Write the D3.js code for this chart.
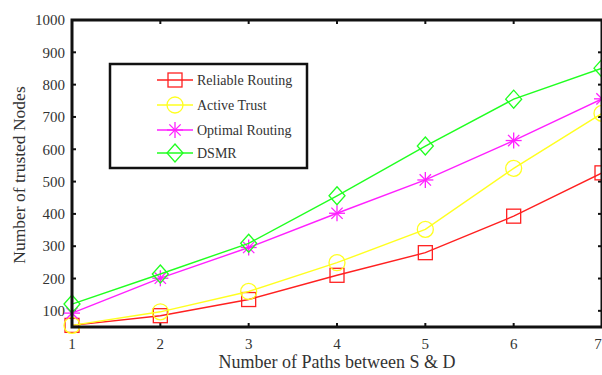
<!DOCTYPE html>
<html>
<head>
<meta charset="utf-8">
<script src="https://cdn.jsdelivr.net/npm/d3@7"></script>
<style>
  html, body { margin: 0; padding: 0; background: #fff; }
  svg { display: block; }
  text { font-family: "Liberation Serif", "Times New Roman", serif; fill: #333; }
</style>
</head>
<body>
<svg id="chart" width="602" height="375"></svg>
<script>
// Number of paths between source and destination
const paths = [1, 2, 3, 4, 5, 6, 7];

// Trusted-node counts per routing scheme
const reliableRouting = [55, 85, 135, 210, 280, 393, 527];
const activeTrust     = [55, 97, 160, 249, 352, 541, 711];
const optimalRouting  = [93, 201, 296, 402, 505, 627, 756];
const dsmr            = [121, 214, 309, 456, 610, 755, 851];

const seriesNames  = ["Reliable Routing", "Active Trust", "Optimal Routing", "DSMR"];
const seriesColors = ["#ff2020", "#ffff20", "#ff20ff", "#20ff20"];
const seriesShapes = ["square", "circle", "star", "diamond"];
const seriesValues = [reliableRouting, activeTrust, optimalRouting, dsmr];

const yTicks = [100, 200, 300, 400, 500, 600, 700, 800, 900, 1000];

const svg = d3.select("#chart");
const plotLeft = 72, plotRight = 602, plotTop = 20, plotBottom = 327;

const x = d3.scaleLinear().domain([1, 7]).range([plotLeft, plotRight]);
const y = d3.scaleLinear().domain([50, 1000]).range([plotBottom, plotTop]);

// Inward ticks on all four sides
const tickLen = 4;
const axisG = svg.append("g");
paths.slice(1, -1).forEach(v => {
  axisG.append("line").attr("x1", x(v)).attr("x2", x(v))
    .attr("y1", plotBottom).attr("y2", plotBottom - tickLen)
    .attr("stroke", "#111").attr("stroke-width", 2);
  axisG.append("line").attr("x1", x(v)).attr("x2", x(v))
    .attr("y1", plotTop).attr("y2", plotTop + tickLen)
    .attr("stroke", "#111").attr("stroke-width", 2);
});
yTicks.slice(0, -1).forEach(v => {
  axisG.append("line").attr("x1", plotLeft).attr("x2", plotLeft + tickLen)
    .attr("y1", y(v)).attr("y2", y(v))
    .attr("stroke", "#111").attr("stroke-width", 2);
  axisG.append("line").attr("x1", plotRight).attr("x2", plotRight - tickLen)
    .attr("y1", y(v)).attr("y2", y(v))
    .attr("stroke", "#111").attr("stroke-width", 2);
});

// Tick labels (the last x label sits on the right edge)
svg.append("g").selectAll("text").data(paths).join("text")
  .attr("x", d => x(d) - (d === 7 ? 4 : 0)).attr("y", 349)
  .attr("text-anchor", "middle").attr("font-size", 15)
  .text(d => d);
svg.append("g").selectAll("text").data(yTicks).join("text")
  .attr("x", 65).attr("y", d => y(d)).attr("dy", "0.35em")
  .attr("text-anchor", "end").attr("font-size", 15)
  .text(d => d);

// Axis titles
svg.append("text").attr("x", 337).attr("y", 368)
  .attr("text-anchor", "middle").attr("font-size", 18)
  .text("Number of Paths between S & D");
svg.append("text")
  .attr("transform", "translate(25,175) rotate(-90)")
  .attr("text-anchor", "middle").attr("font-size", 17.5)
  .text("Number of trusted Nodes");

// Marker drawing
function drawMarker(g, shape, cx, cy, color) {
  if (shape === "square") {
    g.append("rect").attr("x", cx - 7).attr("y", cy - 7).attr("width", 14).attr("height", 14)
      .attr("fill", "none").attr("stroke", color).attr("stroke-width", 1.3);
  } else if (shape === "circle") {
    g.append("circle").attr("cx", cx).attr("cy", cy).attr("r", 8)
      .attr("fill", "none").attr("stroke", color).attr("stroke-width", 1.3);
  } else if (shape === "star") {
    const r = 8;
    [0, 45, 90, 135].forEach(a => {
      const rad = a * Math.PI / 180;
      g.append("line")
        .attr("x1", cx - r * Math.cos(rad)).attr("y1", cy - r * Math.sin(rad))
        .attr("x2", cx + r * Math.cos(rad)).attr("y2", cy + r * Math.sin(rad))
        .attr("stroke", color).attr("stroke-width", 1.3);
    });
  } else if (shape === "diamond") {
    g.append("path")
      .attr("d", `M${cx},${cy - 9}L${cx + 8},${cy}L${cx},${cy + 9}L${cx - 8},${cy}Z`)
      .attr("fill", "none").attr("stroke", color).attr("stroke-width", 1.3);
  }
}

// Series lines and markers
const line = d3.line().x((d, i) => x(paths[i])).y(d => y(d));
const plot = svg.append("g");
seriesValues.forEach((vals, si) => {
  plot.append("path").datum(vals).attr("d", line)
    .attr("fill", "none").attr("stroke", seriesColors[si]).attr("stroke-width", 1.4);
  vals.forEach((v, i) => drawMarker(plot, seriesShapes[si], x(paths[i]), y(v), seriesColors[si]));
});

// Plot frame
svg.append("rect").attr("x", plotLeft).attr("y", plotTop)
  .attr("width", plotRight - plotLeft).attr("height", plotBottom - plotTop)
  .attr("fill", "none").attr("stroke", "#111").attr("stroke-width", 3);

// Legend
const lg = svg.append("g");
lg.append("rect").attr("x", 110).attr("y", 64).attr("width", 197).attr("height", 104)
  .attr("fill", "#fff").attr("stroke", "#111").attr("stroke-width", 2.5);
const rowY = [80, 105, 130, 153];
seriesNames.forEach((name, i) => {
  lg.append("line").attr("x1", 157).attr("x2", 193).attr("y1", rowY[i]).attr("y2", rowY[i])
    .attr("stroke", seriesColors[i]).attr("stroke-width", 1.4);
  drawMarker(lg, seriesShapes[i], 175, rowY[i], seriesColors[i]);
  lg.append("text").attr("x", 197).attr("y", rowY[i]).attr("dy", "0.35em")
    .attr("font-size", 14).text(name);
});
</script>
</body>
</html>
